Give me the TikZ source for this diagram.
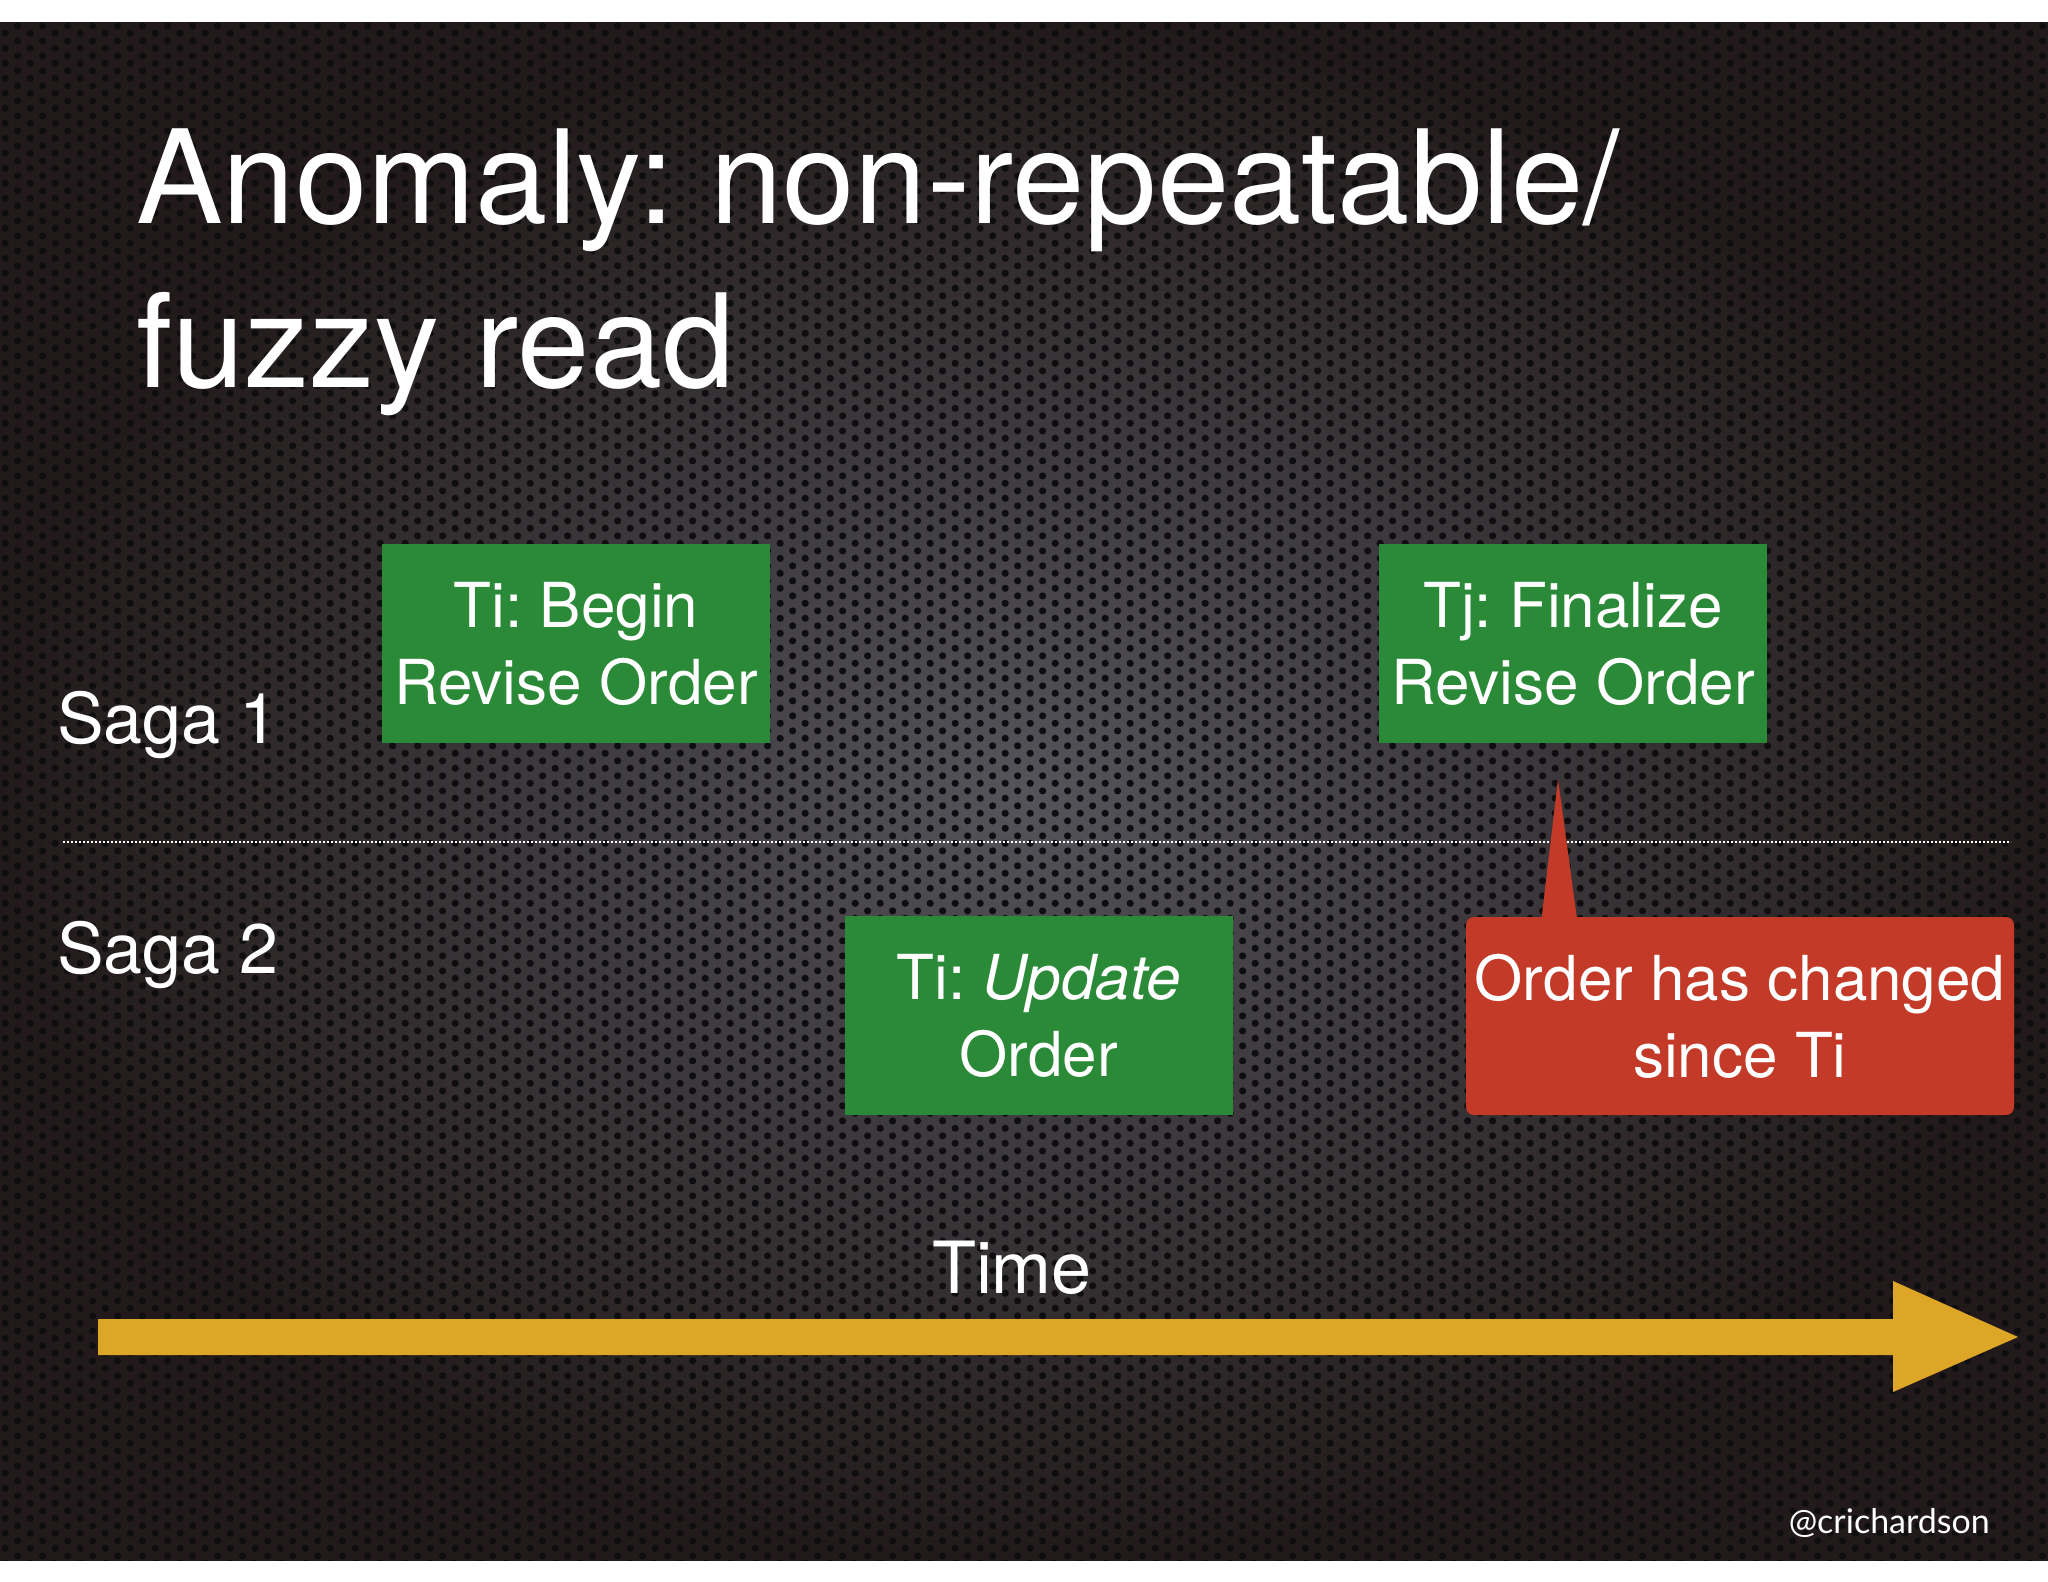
\documentclass[tikz,border=0pt]{standalone}
\usepackage{fontspec}
\setmainfont{TeX Gyre Heros}
\newfontfamily\handlefont{Lato}
\usetikzlibrary{patterns,calc}
\frenchspacing
\pgfdeclarepatternformonly{holes}{\pgfqpoint{0pt}{0pt}}{\pgfqpoint{25.4pt}{15.4pt}}{\pgfqpoint{25.4pt}{15.4pt}}{%
  \pgfpathcircle{\pgfqpoint{6.35pt}{3.85pt}}{3.7pt}%
  \pgfpathcircle{\pgfqpoint{19.05pt}{11.55pt}}{3.7pt}%
  \pgfusepath{fill}}
\definecolor{boxgreen}{RGB}{42,138,56}
\definecolor{boxred}{RGB}{196,58,40}
\definecolor{timegold}{RGB}{222,166,38}
\definecolor{plate}{RGB}{84,84,90}
\definecolor{plateedge}{RGB}{34,26,26}
\definecolor{hole}{RGB}{14,14,17}
\begin{document}
\begin{tikzpicture}[x=1pt,y=-1pt,
  greenbox/.style={fill=boxgreen, minimum width=388pt, minimum height=199pt, inner sep=0pt,
    text=white, align=center, font=\fontsize{62}{77}\selectfont},
  redbox/.style={fill=boxred, rounded corners=8pt, minimum width=548pt, minimum height=198pt, inner sep=0pt,
    text=white, align=center, font=\fontsize{62}{77}\selectfont},
  titletext/.style={text=white, inner sep=0pt, font=\fontsize{130}{156}\selectfont},
  sagatext/.style={text=white, inner sep=0pt, font=\fontsize{70}{84}\selectfont},
  divider/.style={white!85, line width=2pt, dash pattern=on 2pt off 2pt}]
\useasboundingbox (0,0) rectangle (2048,1582);
\fill[white] (0,0) rectangle (2048,1582);
\shade[inner color=plate, outer color=plateedge] (0,22) rectangle (2048,1560);
\fill[pattern=holes, pattern color=hole] (0,22) rectangle (2048,1560);

% title
\node[titletext, anchor=base west] (t1) at (136,223) {Anomaly: non-repeatable/};
\node[titletext, anchor=base west] (t2) at (136,387) {fuzzy read};

% lanes
\node[sagatext, anchor=base west] (s1) at (57,743) {Saga 1};
\node[sagatext, anchor=base west] (s2) at (57,973) {Saga 2};
\coordinate (d1) at (63,842);
\coordinate (d2) at (2011,842);
\draw[divider] (d1) -- (d2);

% boxes
\node[greenbox] (b1) at (576,643.5) {Ti: Begin\\Revise Order};
\node[greenbox] (b2) at (1573,643.5) {Tj: Finalize\\Revise Order};
\node[greenbox] (b3) at (1038.5,1015.5) {Ti: \textit{Update}\\Order};
\node[redbox] (warn) at (1740,1016) {Order has changed\\since Ti};
\coordinate (tip) at (1558,779);
\fill[boxred] (tip) -- ($(warn.north west)+(75,8)$) -- ($(warn.north west)+(112,8)$) -- cycle;

% time axis
\node[text=white, inner sep=0pt, anchor=base, font=\fontsize{72}{86}\selectfont] (time) at (1012,1293) {Time};
\coordinate (tstart) at (98,1337);
\coordinate (tend) at (2018,1337);
\fill[timegold] ($(tstart)+(0,-18)$) -- (1893,1319) -- (1893,1281) -- (tend) -- (1893,1392) -- (1893,1355) -- ($(tstart)+(0,18)$) -- cycle;

% handle
\node[text=white, inner sep=0pt, anchor=base east, font=\handlefont\fontsize{34}{40}\selectfont] (handle) at (1990,1533) {@crichardson};
\end{tikzpicture}
\end{document}
